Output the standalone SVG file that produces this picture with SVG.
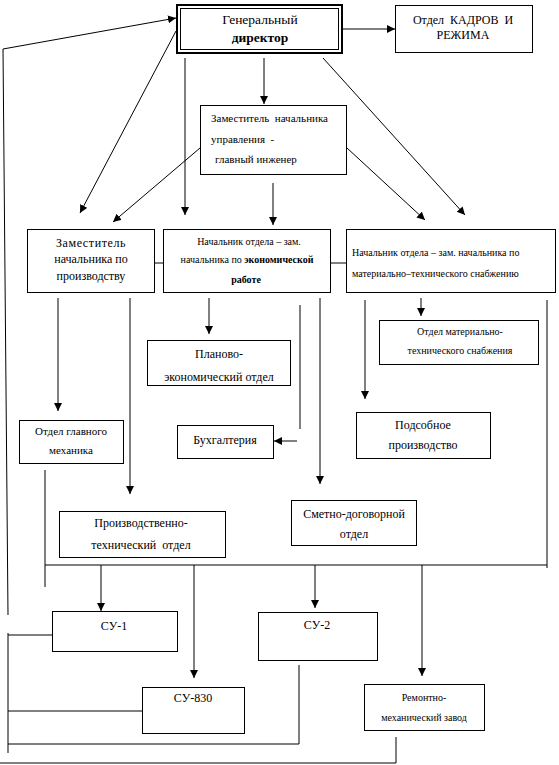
<svg xmlns="http://www.w3.org/2000/svg" width="559" height="765" viewBox="0 0 559 765" font-family="Liberation Serif, Times New Roman, DejaVu Serif, serif">
<style>
.b{fill:#fff;stroke:#000;stroke-width:1}
.l{fill:none;stroke:#000;stroke-width:1}
.a{fill:none;stroke:#000;stroke-width:1;marker-end:url(#ah)}
text{fill:#000;text-anchor:middle}
.t12{font-size:12px}
.t11{font-size:11px}
.t10{font-size:10px}
.bold{font-weight:bold}
</style>
<defs>
<marker id="ah" markerUnits="userSpaceOnUse" markerWidth="8" markerHeight="9" refX="8" refY="4" orient="auto">
<path d="M0,0 L8,4 L0,8 z" fill="#000"/>
</marker>
</defs>
<rect width="559" height="765" fill="#fff"/>

<g id="connectors">
<path class="a" d="M3,49 L176,18"/>
<path class="l" d="M3,49 L8,615"/>
<path class="a" d="M342,29 L395,29"/>
<path class="a" d="M264,58 L264,104"/>
<path class="a" d="M176,31 L80,213"/>
<path class="a" d="M185,58 L185,215"/>
<path class="a" d="M323,58 L465,215"/>
<path class="a" d="M200,148 L113,222"/>
<path class="a" d="M347,148 L425,220"/>
<path class="a" d="M273,183 L273,225"/>
<path class="l" d="M155,263 L163,263"/>
<path class="l" d="M331,263 L346,263"/>
<path class="a" d="M58,298 L58,411"/>
<path class="a" d="M130,298 L130,494"/>
<path class="l" d="M45,470 L45,587"/>
<path class="a" d="M209,298 L209,334"/>
<path class="l" d="M300,305 L300,429"/>
<path class="a" d="M297,441 L274,441"/>
<path class="a" d="M320,298 L320,484"/>
<path class="a" d="M365,300 L365,399"/>
<path class="a" d="M421,298 L421,316"/>
<path class="l" d="M547,300 L547,568"/>
<path class="l" d="M45,565 L547,565"/>
<path class="a" d="M101,565 L101,611"/>
<path class="a" d="M194,565 L194,678"/>
<path class="a" d="M315,565 L315,608"/>
<path class="a" d="M422,565 L422,676"/>
<path class="l" d="M8,633 L8,753"/>
<path class="l" d="M8,635 L52,635"/>
<path class="l" d="M8,711 L142,711"/>
<path class="l" d="M8,744 L299,744 L299,665"/>
<path class="l" d="M0,763 L396,763 L396,737"/>
</g>

<g id="gen">
<rect x="177" y="5" width="165" height="48" fill="#fff" stroke="#000" stroke-width="2"/>
<rect x="180.5" y="8.5" width="158" height="41" class="b"/>
<text x="260" y="24" font-size="13.5">Генеральный</text>
<text x="260" y="42" class="bold" font-size="13.5">директор</text>
</g>

<g id="kadry">
<rect x="395.5" y="5.5" width="137" height="47" class="b"/>
<text x="463" y="24" class="t12" xml:space="preserve">Отдел  КАДРОВ  И</text>
<text x="463" y="39" class="t12">РЕЖИМА</text>
</g>

<g id="glavinzh">
<rect x="200.5" y="105.5" width="146" height="69" class="b"/>
<text x="211" y="122" class="t11" text-anchor="start" style="text-anchor:start" xml:space="preserve">Заместитель  начальника</text>
<text x="211" y="143" class="t11" style="text-anchor:start" xml:space="preserve">управления  -</text>
<text x="215" y="163" class="t11" style="text-anchor:start">главный инженер</text>
</g>

<g id="zam-proizv">
<rect x="27.5" y="229.5" width="127" height="63" class="b"/>
<text x="91" y="247" class="t12" letter-spacing="0.6">Заместитель</text>
<text x="91" y="263" class="t12">начальника по</text>
<text x="91" y="280" class="t12">производству</text>
</g>

<g id="nach-ekon">
<rect x="163.5" y="229.5" width="167" height="63" class="b"/>
<text x="249" y="245" class="t10">Начальник отдела – зам.</text>
<text x="247" y="263" class="t10">начальника по <tspan class="bold">экономической</tspan></text>
<text x="246" y="283" class="t10 bold">работе</text>
</g>

<g id="nach-mts">
<rect x="346.5" y="229.5" width="209" height="63" class="b"/>
<text x="352" y="256" class="t10" style="text-anchor:start">Начальник отдела – зам. начальника по</text>
<text x="352" y="277" class="t10" style="text-anchor:start">материально–технического снабжению</text>
</g>

<g id="otdel-mts">
<rect x="379.5" y="320.5" width="159" height="44" class="b"/>
<text x="460" y="335" class="t10">Отдел материально-</text>
<text x="460" y="354" class="t10">технического снабжения</text>
</g>

<g id="plan-ekon">
<rect x="147.5" y="340.5" width="143" height="45" class="b"/>
<text x="219" y="358" class="t12">Планово-</text>
<text x="219" y="381" class="t12">экономический отдел</text>
</g>

<g id="glav-mekh">
<rect x="19.5" y="420.5" width="104" height="43" class="b"/>
<text x="71" y="435" class="t11">Отдел главного</text>
<text x="71" y="454" class="t11">механика</text>
</g>

<g id="buh">
<rect x="177.5" y="425.5" width="96" height="33" class="b"/>
<text x="225" y="444" class="t12">Бухгалтерия</text>
</g>

<g id="podsob">
<rect x="356.5" y="412.5" width="134" height="46" class="b"/>
<text x="423" y="429" class="t12">Подсобное</text>
<text x="423" y="449" class="t12">производство</text>
</g>

<g id="pto">
<rect x="59.5" y="511.5" width="166" height="46" class="b"/>
<text x="141" y="527" class="t12">Производственно-</text>
<text x="141" y="549" class="t12" xml:space="preserve">технический  отдел</text>
</g>

<g id="smetno">
<rect x="291.5" y="500.5" width="125" height="45" class="b"/>
<text x="354" y="518" class="t12">Сметно-договорной</text>
<text x="354" y="538" class="t12">отдел</text>
</g>

<g id="su1">
<rect x="52.5" y="611.5" width="125" height="40" class="b"/>
<text x="114" y="630" class="t12">СУ-1</text>
</g>

<g id="su2">
<rect x="258.5" y="612.5" width="119" height="48" class="b"/>
<text x="317" y="629" class="t12">СУ-2</text>
</g>

<g id="su830">
<rect x="142.5" y="687.5" width="102" height="46" class="b"/>
<text x="193" y="702" class="t12">СУ-830</text>
</g>

<g id="rmz">
<rect x="364.5" y="684.5" width="120" height="46" class="b"/>
<text x="424" y="701" class="t10">Ремонтно-</text>
<text x="424" y="721" class="t10">механический завод</text>
</g>
</svg>
